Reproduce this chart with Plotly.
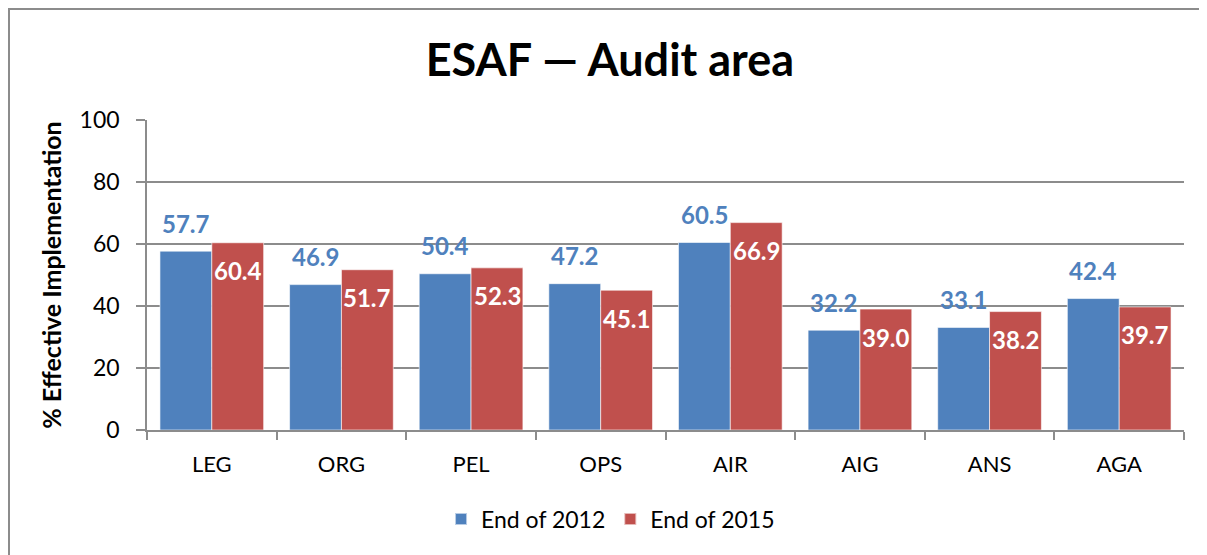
import plotly.graph_objects as go

categories = ["LEG", "ORG", "PEL", "OPS", "AIR", "AIG", "ANS", "AGA"]
end_2012 = [57.7, 46.9, 50.4, 47.2, 60.5, 32.2, 33.1, 42.4]
end_2015 = [60.4, 51.7, 52.3, 45.1, 66.9, 39.0, 38.2, 39.7]
y_ticks = [0, 20, 40, 60, 80, 100]

BLUE = "#4F81BD"
RED = "#C0504D"
GRID = "#8C8C8C"
FONT = "Lato"

fig = go.Figure()
fig.add_trace(go.Bar(x=categories, y=end_2012, name="End of 2012",
                     marker=dict(color=BLUE, line=dict(color="rgba(255,255,255,0.6)", width=1))))
fig.add_trace(go.Bar(x=categories, y=end_2015, name="End of 2015",
                     marker=dict(color=RED, line=dict(color="rgba(255,255,255,0.6)", width=1))))

annotations = []
for c, v in zip(categories, end_2012):
    annotations.append(dict(x=c, y=v, xref="x", yref="y", text=f"{v:.1f}", showarrow=False,
                            xshift=-26, yshift=28, yanchor="middle",
                            font=dict(family=FONT, size=24, color=BLUE, weight="bold")))
for c, v in zip(categories, end_2015):
    annotations.append(dict(x=c, y=v, xref="x", yref="y", text=f"{v:.1f}", showarrow=False,
                            xshift=26, yshift=-28, yanchor="middle",
                            font=dict(family=FONT, size=24, color="white", weight="bold")))

# page body adds an 8px offset; figure is sized to fit the window
fig.update_layout(
    width=1199, height=547,
    margin=dict(l=139, r=23, t=112, b=125),
    paper_bgcolor="white", plot_bgcolor="white",
    font=dict(family=FONT, size=22, color="black"),
    title=dict(text="<b>ESAF — Audit area</b>", x=0.502, xanchor="center", y=0.905, yanchor="middle",
               font=dict(family=FONT, size=45, color="black")),
    barmode="group", bargap=0.2, bargroupgap=0,
    showlegend=True,
    legend=dict(orientation="h", x=0.447, xanchor="center", y=-0.287, yanchor="middle",
                font=dict(family=FONT, size=23), itemsizing="constant", traceorder="normal"),
    annotations=annotations,
    shapes=[dict(type="rect", xref="paper", yref="paper",
                 x0=(9 - 147) / 1037, x1=1.2, y0=-0.6, y1=(430 - 9) / 310,
                 line=dict(color=GRID, width=2), layer="below")],
)
fig.update_yaxes(range=[0, 100], tickvals=y_ticks, showgrid=True, gridcolor=GRID, gridwidth=1.5,
                 showline=True, linecolor=GRID, linewidth=1.5, ticks="outside", ticklen=9,
                 tickcolor=GRID, tickwidth=1.5, ticklabelstandoff=12, zeroline=False,
                 tickfont=dict(size=23),
                 title=dict(text="<b>% Effective Implementation</b>", standoff=11,
                            font=dict(family=FONT, size=25)))
fig.update_xaxes(showline=True, linecolor=GRID, linewidth=1.5, ticks="outside", ticklen=8,
                 tickcolor=GRID, tickwidth=1.5, tickson="boundaries", ticklabelstandoff=14,
                 tickfont=dict(size=22))

fig.write_html("out.html")
